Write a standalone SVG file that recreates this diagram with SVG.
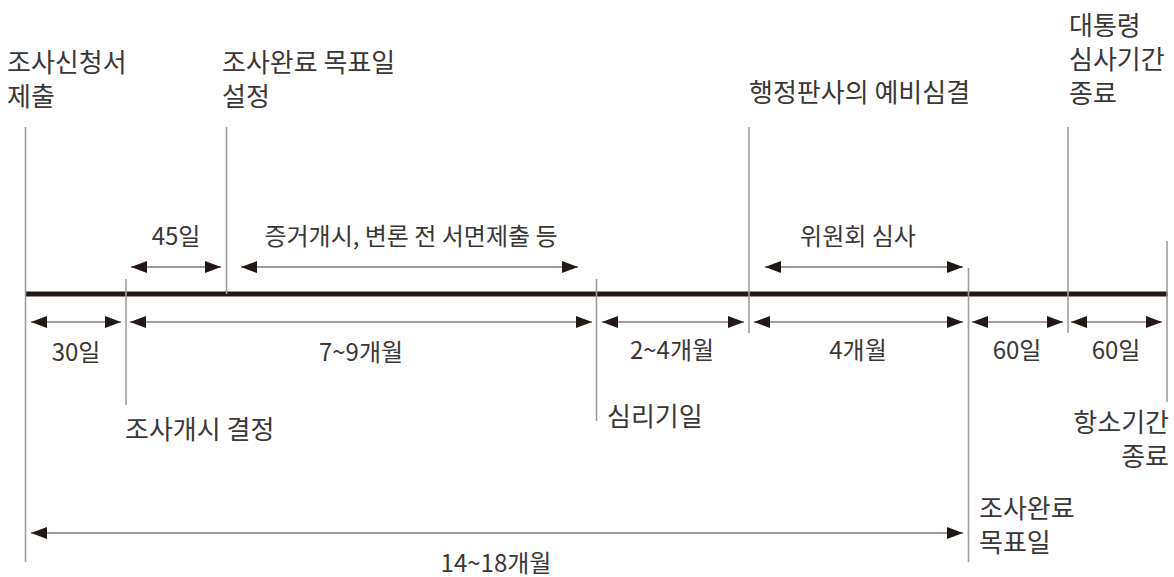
<svg xmlns="http://www.w3.org/2000/svg" width="1174" height="577" viewBox="0 0 1174 577">
<style>
text{font-family:"Noto Sans CJK KR","Noto Sans",sans-serif;font-size:24px;fill:#3a3737}
.ev{font-size:26px}
.mid{text-anchor:middle}
.end{text-anchor:end}
.tick{stroke:#a19d9d;stroke-width:1.6;fill:none}
.arr{stroke:#a19d9d;stroke-width:2;fill:none;marker-start:url(#ah);marker-end:url(#ah)}
.main{stroke:#231815;stroke-width:5;fill:none}
</style>
<defs>
<marker id="ah" viewBox="0 0 16 12" refX="16" refY="6" markerWidth="16" markerHeight="12" markerUnits="userSpaceOnUse" orient="auto-start-reverse">
<path d="M0,0 L16,6 L0,12 Z" fill="#231815"/>
</marker>
</defs>
<rect width="1174" height="577" fill="#fff"/>

<g id="timeline"><line class="main" x1="25" y1="294" x2="1168" y2="294"/></g>

<g id="ev-submit">
<line class="tick" x1="25.5" y1="127" x2="25.5" y2="562"/>
<text class="ev" x="7" y="72">조사신청서</text>
<text class="ev" x="7" y="106">제출</text>
</g>
<g id="ev-start">
<line class="tick" x1="126" y1="279" x2="126" y2="405"/>
<text class="ev" x="125" y="439">조사개시 결정</text>
</g>
<g id="ev-target-set">
<line class="tick" x1="226.5" y1="127" x2="226.5" y2="294"/>
<text class="ev" x="222" y="72">조사완료 목표일</text>
<text class="ev" x="222" y="106">설정</text>
</g>
<g id="ev-hearing">
<line class="tick" x1="596.5" y1="279" x2="596.5" y2="421"/>
<text class="ev" x="607" y="426">심리기일</text>
</g>
<g id="ev-initial">
<line class="tick" x1="749" y1="127" x2="749" y2="333"/>
<text class="ev" x="749" y="102">행정판사의 예비심결</text>
</g>
<g id="ev-target">
<line class="tick" x1="968.5" y1="268" x2="968.5" y2="562"/>
<text class="ev" x="979" y="518">조사완료</text>
<text class="ev" x="979" y="552">목표일</text>
</g>
<g id="ev-president">
<line class="tick" x1="1068" y1="127" x2="1068" y2="333"/>
<text class="ev" x="1069" y="35">대통령</text>
<text class="ev" x="1069" y="69">심사기간</text>
<text class="ev" x="1069" y="103">종료</text>
</g>
<g id="ev-appeal">
<line class="tick" x1="1167" y1="241" x2="1167" y2="402"/>
<text class="ev end" x="1169" y="432">항소기간</text>
<text class="ev end" x="1169" y="466">종료</text>
</g>

<g id="connectors">
<line class="arr" x1="131" y1="267" x2="221" y2="267"/>
<line class="arr" x1="241" y1="267" x2="578" y2="267"/>
<line class="arr" x1="765" y1="267" x2="963" y2="267"/>
<line class="arr" x1="31" y1="322" x2="121" y2="322"/>
<line class="arr" x1="130" y1="322" x2="592" y2="322"/>
<line class="arr" x1="602" y1="322" x2="744" y2="322"/>
<line class="arr" x1="754" y1="322" x2="963" y2="322"/>
<line class="arr" x1="972" y1="322" x2="1063" y2="322"/>
<line class="arr" x1="1071" y1="322" x2="1162" y2="322"/>
<line class="arr" x1="31" y1="533" x2="963" y2="533"/>
</g>

<g id="labels">
<text class="mid" x="176" y="245">45일</text>
<text class="mid" x="411" y="245">증거개시, 변론 전 서면제출 등</text>
<text class="mid" x="858" y="245">위원회 심사</text>
<text class="mid" x="76" y="361">30일</text>
<text class="mid" x="361" y="361">7~9개월</text>
<text class="mid" x="672" y="359">2~4개월</text>
<text class="mid" x="858" y="359">4개월</text>
<text class="mid" x="1017" y="359">60일</text>
<text class="mid" x="1116" y="359">60일</text>
<text class="mid" x="496" y="572">14~18개월</text>
</g>
</svg>
